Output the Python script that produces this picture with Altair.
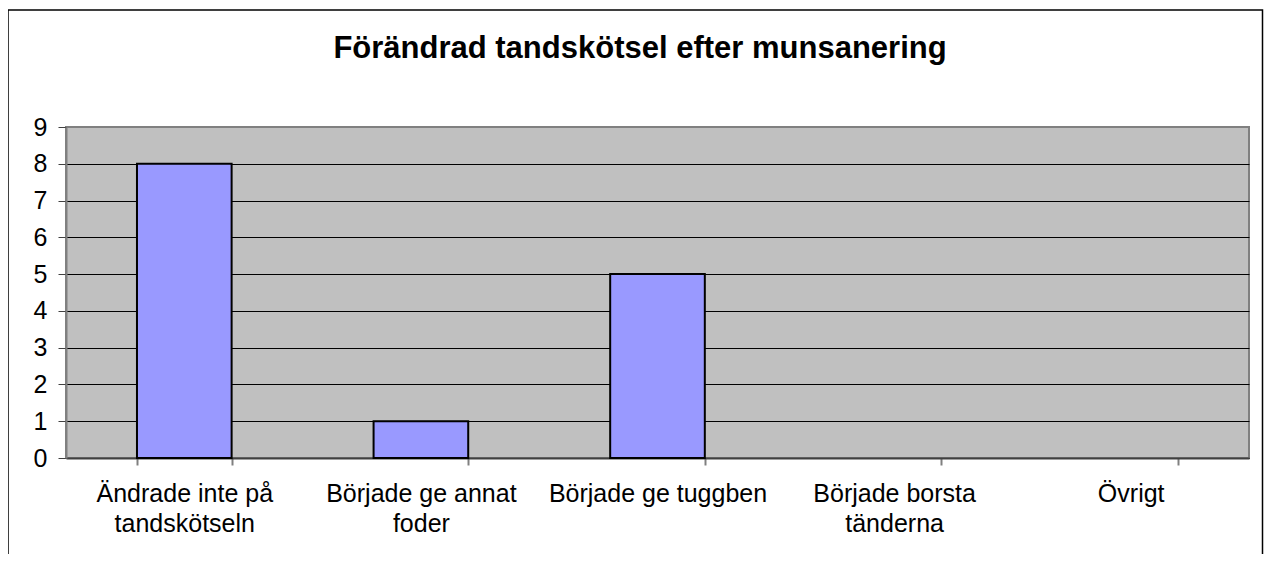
import altair as alt
import pandas as pd

# ---- data ----
categories = [
    "Ändrade inte på\ntandskötseln",
    "Började ge annat\nfoder",
    "Började ge tuggben",
    "Började borsta\ntänderna",
    "Övrigt",
]
values = [8, 1, 5, 0, 0]
y_ticks = [0, 1, 2, 3, 4, 5, 6, 7, 8, 9]
title_text = "Förändrad tandskötsel efter munsanering"

FONT = "Liberation Sans, Arial, sans-serif"

df = pd.DataFrame({"kategori": categories, "antal": values})
one = pd.DataFrame({"k": [0]})

bars = (
    alt.Chart(df)
    .transform_filter("datum.antal > 0")
    .mark_bar(color="#9999FF", stroke="#000000", strokeWidth=2)
    .encode(
        x=alt.X(
            "kategori:N",
            sort=categories,
            scale=alt.Scale(paddingInner=0.6, paddingOuter=0.3, domain=categories),
            axis=alt.Axis(
                title=None,
                labelAngle=0,
                labelFont=FONT,
                labelFontSize=25,
                labelColor="#000000",
                labelLineHeight=30,
                labelPadding=16,
                labelLimit=400,
                labelExpr="split(datum.label, '\\n')",
                tickBand="extent",
                tickSize=7,
                tickColor="#808080",
                tickWidth=2,
                domainColor="#404040",
                domainWidth=2,
                grid=False,
            ),
        ),
        y=alt.Y(
            "antal:Q",
            scale=alt.Scale(domain=[0, 9], nice=False),
            axis=alt.Axis(
                title=None,
                values=y_ticks,
                format="d",
                labelFont=FONT,
                labelFontSize=25,
                labelColor="#000000",
                labelPadding=11,
                tickSize=8,
                tickColor="#404040",
                tickWidth=1,
                domainColor="#808080",
                domainWidth=2,
                grid=True,
                gridColor="#000000",
                gridWidth=1,
                gridOpacity=alt.condition("datum.value >= 9", alt.value(0), alt.value(1)),
            ),
        ),
    )
)

border = (
    alt.Chart(one)
    .mark_rect(filled=False, stroke="#000000", strokeWidth=1.5)
    .encode(
        x=alt.value(-58),
        x2=alt.value(1196.5),
        y=alt.value(-117),
        y2=alt.value(520),
    )
)

title = (
    alt.Chart(one)
    .mark_text(
        font=FONT,
        fontSize=31,
        fontWeight="bold",
        align="center",
        baseline="alphabetic",
        color="#000000",
    )
    .encode(x=alt.value(574), y=alt.value(-69), text=alt.value(title_text))
)

chart = (
    alt.layer(border, bars, title)
    .properties(
        width=1183,
        height=331,
        padding={"left": 58, "top": 119, "right": 15, "bottom": 96},
        autosize=alt.AutoSizeParams(type="none"),
        background="#FFFFFF",
    )
    .configure_view(fill="#C0C0C0", stroke="#808080", strokeWidth=2)
)

chart.save("out.html", embed_options={"renderer": "svg", "actions": False})
